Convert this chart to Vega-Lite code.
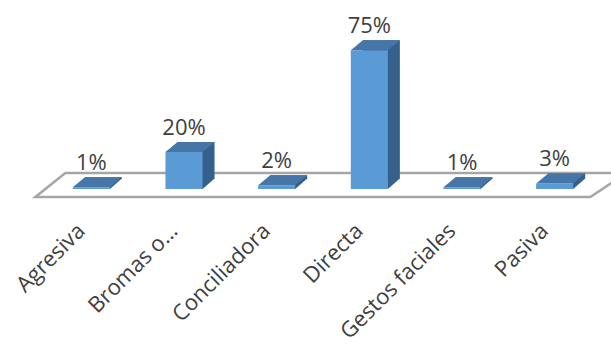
{
  "$schema": "https://vega.github.io/schema/vega-lite/v6.json",
  "autosize": {"type": "none"},
  "width": 556,
  "height": 148,
  "padding": {"left": 45, "top": 41, "right": 10, "bottom": 156},
  "background": "white",
  "config": {
    "view": {"stroke": null},
    "font": "Open Sans"
  },
  "data": {
    "values": [
      {"tipo": "Agresiva", "pct": 0.01},
      {"tipo": "Bromas o…", "pct": 0.20},
      {"tipo": "Conciliadora", "pct": 0.02},
      {"tipo": "Directa", "pct": 0.75},
      {"tipo": "Gestos faciales", "pct": 0.01},
      {"tipo": "Pasiva", "pct": 0.03}
    ]
  },
  "encoding": {
    "x": {
      "field": "tipo",
      "type": "nominal",
      "sort": null,
      "scale": {"paddingInner": 0.6, "paddingOuter": 0.3},
      "axis": {
        "title": null,
        "domain": false,
        "ticks": false,
        "labelAngle": -45,
        "labelAlign": "right",
        "labelBaseline": "middle",
        "labelPadding": 38,
        "labelOffset": -10,
        "labelFontSize": 22,
        "labelColor": "#404040",
        "labelLimit": 0
      }
    },
    "y": {
      "field": "pct",
      "type": "quantitative",
      "scale": {"domain": [0, 0.8]},
      "axis": null
    }
  },
  "layer": [
    {
      "transform": [{"filter": "datum.tipo === 'Agresiva'"}],
      "mark": {
        "type": "point",
        "shape": "M-0.26,-0.16L5.35,-0.16L4.99,0.08L-0.56,0.08Z",
        "size": 40000,
        "filled": true,
        "fill": "white",
        "stroke": "#a6a6a6",
        "strokeWidth": 2.5,
        "opacity": 1
      },
      "encoding": {
        "y": {"datum": 0}
      }
    },
    {
      "mark": {
        "type": "bar",
        "color": "#36608c",
        "xOffset": 12,
        "x2Offset": 12,
        "yOffset": -10,
        "y2Offset": -10
      }
    },
    {
      "mark": {
        "type": "point",
        "shape": "M0.36,-0.21L0.61,-0.21L0.36,0.01Z",
        "size": 10000,
        "filled": true,
        "color": "#36608c",
        "strokeWidth": 0,
        "opacity": 1
      },
      "encoding": {"y": {"datum": 0}}
    },
    {
      "mark": {"type": "bar", "color": "#5b9bd5"}
    },
    {
      "mark": {
        "type": "point",
        "shape": "M-0.37,0L-0.13,-0.2L0.61,-0.2L0.37,0Z",
        "size": 10000,
        "filled": true,
        "color": "#4676a8",
        "strokeWidth": 0,
        "opacity": 1
      }
    },
    {
      "mark": {
        "type": "text",
        "dy": -17,
        "baseline": "alphabetic",
        "fontSize": 22,
        "color": "#404040"
      },
      "encoding": {
        "text": {"field": "pct", "type": "quantitative", "format": ".0%"}
      }
    }
  ]
}
